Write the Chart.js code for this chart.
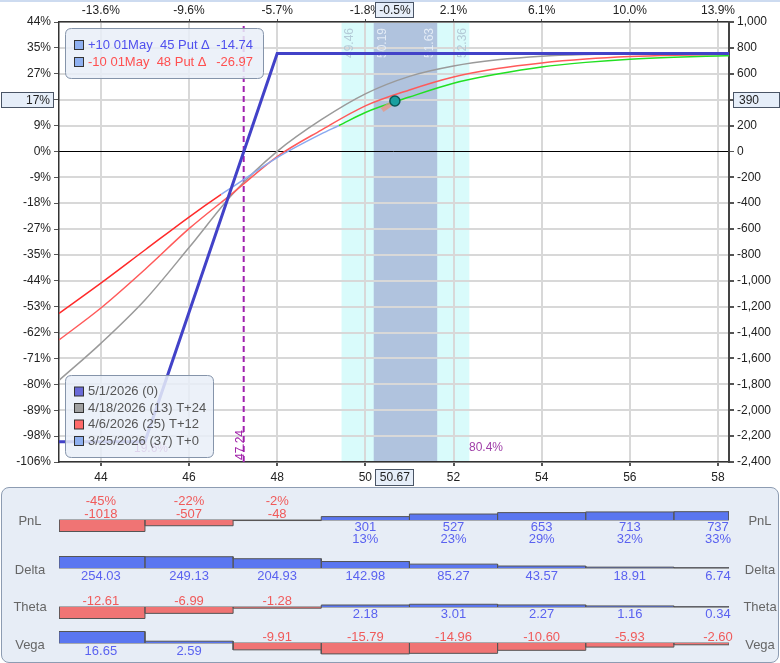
<!DOCTYPE html>
<html><head><meta charset="utf-8">
<script src="https://cdn.jsdelivr.net/npm/chart.js@4.4.1/dist/chart.umd.min.js"></script>
<style>
html,body{margin:0;padding:0;background:#fff;width:780px;height:663px;overflow:hidden;}
#wrap{position:relative;width:780px;height:663px;overflow:hidden;}
#topstrip{position:absolute;left:0;top:0;width:780px;height:2px;background:#cddbf0;}
#main{position:absolute;left:0;top:0;}
#panel{position:absolute;left:1px;top:487px;width:776px;height:174px;background:#e7edf6;border:1px solid #8d9cb2;border-radius:8px;}
.row{position:absolute;left:0;}
</style></head><body>
<div id="wrap">
<canvas id="main" width="780" height="487"></canvas>
<div id="topstrip"></div>
<div id="panel"></div>
<canvas id="rowPnl" class="row" width="780" height="60"></canvas>
<canvas id="rowDelta" class="row" width="780" height="60"></canvas>
<canvas id="rowTheta" class="row" width="780" height="60"></canvas>
<canvas id="rowVega" class="row" width="780" height="60"></canvas>
</div>
<script>
// ---------------- DATA ----------------
const prices = [43.05,44,45,46,47,48,49,50,51,52,53,54,55,56,57,58,58.25];
const t24Values = [-1769,-1483,-1148,-743,-325,0,245,445,580,660,708,736,749,755,757,757,757];
const t12Values = [-1457,-1210,-912,-597,-320,-40,165,352,475,575,640,684,714,733,743,748,749];
const t0Prices = [43.05,44,45,46,46.73,47,48,49,49.4,50,51,52,53,54,55,56,57,58,58.25];
const t0Values = [-1252,-1018,-762,-507,-332,-272,-48,135,200,301,420,527,598,653,688,713,728,737,739];
const expiryPrices = [43.05,45,48,58.25];
const expiryValues = [-2243,-2243,757,757];

const breakeven = 47.24;
const currentPrice = 50.67;
const currentPnL = 390;
const currentPnLPct = '17%';
const currentPricePct = '-0.5%';
const tangentPrices = [50.38,50.6];
const tangentValues = [320,372];
const sd1Range = [49.46,52.36];
const sdHalfRange = [50.19,51.63];
const probLabels = ['19.6%','80.4%'];

const xTickValues = [44,46,48,50,52,54,56,58];
const topTickLabels = ['-13.6%','-9.6%','-5.7%','-1.8%','2.1%','6.1%','10.0%','13.9%'];
const pnlTickValues = [1000,800,600,400,200,0,-200,-400,-600,-800,-1000,-1200,-1400,-1600,-1800,-2000,-2200,-2400];
const pctTickLabels = ['44%','35%','27%','18%','9%','0%','-9%','-18%','-27%','-35%','-44%','-53%','-62%','-71%','-80%','-89%','-98%','-106%'];

const legendTop = [
  {text:'+10 01May  45 Put Δ', value:'-14.74', color:'#5050ee'},
  {text:'-10 01May  48 Put Δ', value:'-26.97', color:'#ff5050'}
];
const seriesNames = ['5/1/2026 (0)','4/18/2026 (13) T+24','4/6/2026 (25) T+12','3/25/2026 (37) T+0'];

const binCenters = [44,46,48,50,52,54,56,58];
const pnlValues = [-1018,-507,-48,301,527,653,713,737];
const pnlPct = ['-45%','-22%','-2%','13%','23%','29%','32%','33%'];
const deltaValues = [254.03,249.13,204.93,142.98,85.27,43.57,18.91,6.74];
const thetaValues = [-12.61,-6.99,-1.28,2.18,3.01,2.27,1.16,0.34];
const vegaValues = [16.65,2.59,-9.91,-15.79,-14.96,-10.60,-5.93,-2.60];

// ---------------- SETUP ----------------
const FONT = '"Liberation Sans", Arial, sans-serif';
Chart.defaults.font.family = FONT;
Chart.defaults.font.size = 12;
const xMin = 43.05, xMax = 58.25, yMin = -2400, yMax = 1000;
const pts = (xs, ys) => xs.map((x,i)=>({x:x, y:ys[i]}));

const colExpiry = '#4242c8', colGray = '#9a9a9a', colT12 = '#ff5a5a';
const colT0Red = '#ff2a2a', colT0Blue = '#8aaaf0', colT0Green = '#22e022';

function roundRect(ctx,x,y,w,h,r){
  ctx.beginPath();
  ctx.moveTo(x+r,y); ctx.lineTo(x+w-r,y); ctx.quadraticCurveTo(x+w,y,x+w,y+r);
  ctx.lineTo(x+w,y+h-r); ctx.quadraticCurveTo(x+w,y+h,x+w-r,y+h);
  ctx.lineTo(x+r,y+h); ctx.quadraticCurveTo(x,y+h,x,y+h-r);
  ctx.lineTo(x,y+r); ctx.quadraticCurveTo(x,y,x+r,y); ctx.closePath();
}

const bandPlugin = {
  id:'bands',
  beforeDraw(chart){
    const {ctx, chartArea:a, scales:{x}} = chart;
    ctx.save();
    ctx.fillStyle = '#d9fbfb';
    let x1 = x.getPixelForValue(sd1Range[0]), x2 = x.getPixelForValue(sd1Range[1]);
    ctx.fillRect(x1, a.top, x2-x1, a.bottom-a.top);
    ctx.fillStyle = '#b0c3de';
    x1 = x.getPixelForValue(sdHalfRange[0]); x2 = x.getPixelForValue(sdHalfRange[1]);
    ctx.fillRect(x1, a.top, x2-x1, a.bottom-a.top);
    ctx.restore();
  },
  beforeDatasetsDraw(chart){
    const {ctx, scales:{x}} = chart;
    ctx.save();
    ctx.font = '12px '+FONT;
    ctx.textAlign = 'center'; ctx.textBaseline = 'middle';
    const items = [
      [sd1Range[0], 8, '#b4cbd8'], [sdHalfRange[0], 9, '#e4ecf6'],
      [sdHalfRange[1], -8, '#e4ecf6'], [sd1Range[1], -7, '#b4cbd8']
    ];
    items.forEach(([v,off,c])=>{
      ctx.save();
      ctx.translate(x.getPixelForValue(v)+off, 43);
      ctx.rotate(-Math.PI/2);
      ctx.fillStyle = c;
      ctx.fillText(v.toFixed(2), 0, 0);
      ctx.restore();
    });
    ctx.restore();
  }
};

const overlayPlugin = {
  id:'overlay',
  afterDraw(chart){
    const {ctx, scales:{x, y}} = chart;
    ctx.save();
    ctx.font = '12px '+FONT; ctx.textAlign='center'; ctx.textBaseline='middle';
    ctx.fillStyle = '#a040a8';
    ctx.fillText(probLabels[0], 151, 449);
    ctx.fillText(probLabels[1], 486, 448);
    ctx.save();
    ctx.translate(x.getPixelForValue(breakeven)-3, 445);
    ctx.rotate(-Math.PI/2);
    ctx.fillStyle = '#a020a8';
    ctx.fillText(breakeven.toFixed(2), 0, 0);
    ctx.restore();

    roundRect(ctx, 65.5, 28.5, 198, 50, 6);
    ctx.fillStyle = 'rgba(233,239,248,0.85)'; ctx.fill();
    ctx.strokeStyle = '#8594aa'; ctx.lineWidth = 1; ctx.stroke();
    ctx.font = '13px '+FONT; ctx.textBaseline='middle';
    legendTop.forEach((it,i)=>{
      const yy = 45 + i*17;
      ctx.fillStyle = '#8fb0f0'; ctx.fillRect(74.5, yy-4.5, 9, 9);
      ctx.strokeStyle = '#333'; ctx.strokeRect(74.5, yy-4.5, 9, 9);
      ctx.fillStyle = it.color; ctx.textAlign='left';
      ctx.fillText(it.text, 88, yy);
      ctx.textAlign='right';
      ctx.fillText(it.value, 253, yy);
    });

    roundRect(ctx, 65.5, 375.5, 148, 82, 6);
    ctx.fillStyle = 'rgba(233,239,248,0.85)'; ctx.fill();
    ctx.strokeStyle = '#8594aa'; ctx.stroke();
    const sq = ['#6a6ad8','#a0a0a0','#ff6a6a','#8fb0f0'];
    seriesNames.forEach((n,i)=>{
      const yy = 391.5 + i*16.5;
      ctx.fillStyle = sq[i]; ctx.fillRect(74.5, yy-4.5, 9, 9);
      ctx.strokeStyle = '#333'; ctx.strokeRect(74.5, yy-4.5, 9, 9);
      ctx.fillStyle = '#555'; ctx.textAlign='left';
      ctx.fillText(n, 88, yy);
    });

    ctx.font = '12px '+FONT;
    const py = y.getPixelForValue(currentPnL);
    const px = x.getPixelForValue(currentPrice);
    function box(bx,by,bw,bh,txt,align,tx){
      ctx.fillStyle = '#e6eef9'; ctx.fillRect(bx,by,bw,bh);
      ctx.strokeStyle = '#4a5566'; ctx.lineWidth=1; ctx.strokeRect(bx,by,bw,bh);
      ctx.fillStyle = '#222'; ctx.textAlign = align; ctx.textBaseline='middle';
      ctx.fillText(txt, tx, by+bh/2+0.5);
    }
    box(1.5, Math.round(py)-8.5, 52, 15, currentPnLPct, 'right', 50);
    box(733.5, Math.round(py)-8.5, 46, 15, String(currentPnL), 'left', 739);
    box(Math.round(px)-19.5, 2.5, 38, 15, currentPricePct, 'center', px);
    box(Math.round(px)-19.5, 469.5, 38, 16, currentPrice.toFixed(2), 'center', px);
    ctx.restore();
  }
};

new Chart(document.getElementById('main'), {
  type:'line',
  data:{datasets:[
    {label:'price', data:[{x:currentPrice,y:currentPnL}], showLine:false, pointRadius:5,
     pointBackgroundColor:'#1aa0a0', pointBorderColor:'#0b5656', pointBorderWidth:1.5, order:0},
    {label:'tangent', data:pts(tangentPrices,tangentValues), borderColor:'rgba(232,150,128,0.75)',
     borderWidth:5, pointRadius:0, order:1},
    {label:seriesNames[0], data:pts(expiryPrices,expiryValues), borderColor:colExpiry, borderWidth:3,
     pointRadius:0, tension:0, order:2},
    {label:seriesNames[3], data:pts(t0Prices,t0Values), borderWidth:1.5, pointRadius:0,
     cubicInterpolationMode:'monotone', borderColor:colT0Blue,
     segment:{borderColor: c => c.p0.parsed.x < 46.73 ? colT0Red : (c.p0.parsed.x < 49.4 ? colT0Blue : colT0Green)},
     order:3},
    {label:seriesNames[2], data:pts(prices,t12Values), borderColor:colT12, borderWidth:1.5, pointRadius:0,
     cubicInterpolationMode:'monotone', order:4},
    {label:seriesNames[1], data:pts(prices,t24Values), borderColor:colGray, borderWidth:1.5, pointRadius:0,
     cubicInterpolationMode:'monotone', order:5},
    {label:'breakeven', data:[{x:breakeven,y:yMin},{x:breakeven,y:yMax}], borderColor:'#a020b0',
     borderWidth:2, borderDash:[6,4], pointRadius:0, order:6}
  ]},
  options:{
    animation:false, responsive:false, devicePixelRatio:1,
    layout:{padding:0},
    plugins:{legend:{display:false}, tooltip:{enabled:false}},
    scales:{
      x:{type:'linear', position:'bottom', min:xMin, max:xMax,
        afterFit(s){ s.height = 25; },
        ticks:{stepSize:2, includeBounds:false, color:'#222', padding:4, maxRotation:0,
          callback:v=>String(v)},
        grid:{color:'#d8d8d8', lineWidth:2, tickLength:4, tickColor:'#555'},
        border:{color:'#333', width:1.5}},
      xTop:{type:'linear', position:'top', min:xMin, max:xMax,
        afterFit(s){ s.height = 22; },
        ticks:{stepSize:2, includeBounds:false, color:'#222', padding:1, maxRotation:0,
          callback:v=>{ const i = xTickValues.indexOf(v); return i>=0 ? topTickLabels[i] : ''; }},
        grid:{drawOnChartArea:false, tickLength:3, tickColor:'#555'},
        border:{color:'#333', width:1.5}},
      y:{type:'linear', position:'right', min:yMin, max:yMax,
        afterFit(s){ s.width = 51; },
        ticks:{stepSize:200, color:'#222', padding:3, callback:v=>v.toLocaleString('en-US')},
        grid:{color:c=>(c.tick && c.tick.value===0)?'#000':'#d8d8d8',
              lineWidth:c=>(c.tick && c.tick.value===0)?1:2, tickLength:5, tickColor:'#555'},
        border:{color:'#444', width:2}},
      yl:{type:'linear', position:'left', min:yMin, max:yMax,
        afterFit(s){ s.width = 59; },
        ticks:{stepSize:200, color:'#222', padding:3,
          callback:v=>{ const i = pnlTickValues.indexOf(v); return i>=0 ? pctTickLabels[i] : ''; }},
        grid:{drawOnChartArea:false, tickLength:5, tickColor:'#555'},
        border:{color:'#333', width:1.5}}
    }
  },
  plugins:[bandPlugin, overlayPlugin]
});

// ---------------- LOWER PANEL ROWS ----------------
function makeRow(id, baseline, name, values, fmt, extra, offs){
  const canvas = document.getElementById(id);
  canvas.style.top = (baseline-30)+'px';
  const maxAbs = Math.max(...values.map(Math.abs));
  const M = maxAbs*30/11.5;
  const outline = [];
  binCenters.forEach((c,i)=>{
    const lo = Math.max(c-1,xMin), hi = Math.min(c+1,xMax);
    outline.push({x:lo,y:0},{x:lo,y:values[i]},{x:hi,y:values[i]},{x:hi,y:0});
  });
  const labelPlugin = {
    id:'rowLabels',
    afterDatasetsDraw(chart){
      const {ctx, scales:{x,y}} = chart;
      const y0 = y.getPixelForValue(0);
      ctx.save();
      ctx.font = '13px '+FONT; ctx.textAlign='center'; ctx.textBaseline='middle';
      ctx.fillStyle = '#666';
      ctx.fillText(name, 30, y0+offs.name);
      ctx.fillText(name, 760, y0+offs.name);
      values.forEach((v,i)=>{
        const px = x.getPixelForValue(binCenters[i]);
        if (v < 0){
          ctx.fillStyle = '#f05a5a';
          if (extra){ ctx.fillText(extra[i], px, y0+offs.negExtra); }
          ctx.fillText(fmt(v), px, y0+offs.neg);
        } else {
          ctx.fillStyle = '#5a62f0';
          ctx.fillText(fmt(v), px, y0+offs.pos);
          if (extra){ ctx.fillText(extra[i], px, y0+offs.posExtra); }
        }
      });
      ctx.restore();
    }
  };
  new Chart(canvas, {
    type:'line',
    data:{datasets:[
      {data:outline, borderColor:'#555', borderWidth:1, pointRadius:0, tension:0,
       fill:{target:'origin', above:'#5a76f0', below:'#f07474'}},
      {data:[{x:xMin,y:0},{x:xMax,y:0}], borderColor:'#666', borderWidth:1, pointRadius:0}
    ]},
    options:{animation:false, responsive:false, devicePixelRatio:1,
      layout:{padding:{left:59,right:51,top:0,bottom:0}},
      plugins:{legend:{display:false}, tooltip:{enabled:false}},
      scales:{x:{type:'linear', display:false, min:xMin, max:xMax},
              y:{type:'linear', display:false, min:-M, max:M}}},
    plugins:[labelPlugin]
  });
}
makeRow('rowPnl', 520, 'PnL', pnlValues, v=>String(v), pnlPct,
  {name:1, neg:-5.5, negExtra:-18.5, pos:7.5, posExtra:19.5});
makeRow('rowDelta', 568, 'Delta', deltaValues, v=>v.toFixed(2), null,
  {name:2, neg:-6, pos:8.5});
makeRow('rowTheta', 607, 'Theta', thetaValues, v=>v.toFixed(2), null,
  {name:0, neg:-6, pos:7.5});
makeRow('rowVega', 643, 'Vega', vegaValues, v=>v.toFixed(2), null,
  {name:2, neg:-5.5, pos:8.5});
</script>
</body></html>
